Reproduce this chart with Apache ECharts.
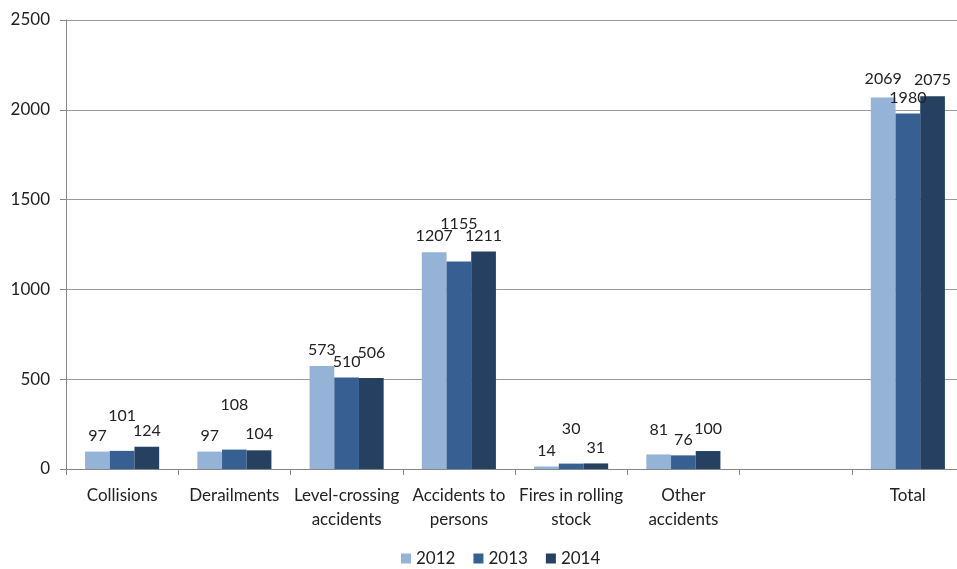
<!DOCTYPE html>
<html><head><meta charset="utf-8">
<script src="https://cdn.jsdelivr.net/npm/echarts@6/dist/echarts.min.js"></script>
<style>html,body{margin:0;padding:0;background:#fff;overflow:hidden}#c{width:975px;height:569px}</style>
</head><body><div id="c"></div>
<script>
const categories = ['Collisions', 'Derailments', 'Level-crossing\naccidents', 'Accidents to\npersons', 'Fires in rolling\nstock', 'Other\naccidents', '', 'Total'];
const years = ['2012', '2013', '2014'];
const v2012 = [97, 97, 573, 1207, 14, 81, null, 2069];
const v2013 = [101, 108, 510, 1155, 30, 76, null, 1980];
const v2014 = [124, 104, 506, 1211, 31, 100, null, 2075];
const yTicks = [0, 500, 1000, 1500, 2000, 2500];

const colors = ['#95B3D7', '#376092', '#254061'];
// extra label lift (px) to mimic the original label placement
const labelLift = [
  [0, 0, 0, 0, 0, 9, 0, 3],
  [19, 29, 0, 22, 19, 0, 0, 0],
  [0, 0, 9, 0, 0, 6, 0, 0]
];
const font = 'Lato, "Open Sans", sans-serif';
const seriesVals = [v2012, v2013, v2014];
const series = seriesVals.map((vals, si) => ({
  name: years[si],
  type: 'bar',
  barGap: '0%',
  barCategoryGap: '34%',
  itemStyle: { color: colors[si] },
  data: vals.map((v, i) => ({
    value: v,
    label: { offset: [0, -labelLift[si][i]] }
  })),
  label: {
    show: true, position: 'top', distance: 8,
    color: '#222', fontSize: 16, fontFamily: font
  }
}));

const chart = echarts.init(document.getElementById('c'));
chart.setOption({
  animation: false,
  grid: { left: 66, right: 11, top: 20, bottom: 100 },
  legend: {
    bottom: -3, left: 396,
    itemWidth: 10, itemHeight: 10, itemGap: 18,
    icon: 'rect',
    textStyle: { fontSize: 17, color: '#222', fontFamily: font },
    data: years
  },
  xAxis: {
    type: 'category', data: categories,
    axisLine: { lineStyle: { color: '#868686' } },
    axisTick: { show: true, length: 6, lineStyle: { color: '#868686' } },
    axisLabel: { fontSize: 17, color: '#222', fontFamily: font, margin: 15, lineHeight: 24, interval: 0 }
  },
  yAxis: {
    type: 'value', min: yTicks[0], max: yTicks[yTicks.length - 1], interval: 500,
    axisLine: { show: true, lineStyle: { color: '#868686' } },
    axisTick: { show: true, length: 6, lineStyle: { color: '#868686' } },
    splitLine: { lineStyle: { color: '#9a9a9a' } },
    axisLabel: { fontSize: 17, color: '#222', fontFamily: font, margin: 16, formatter: v => String(v) }
  },
  series: series
});
</script></body></html>
